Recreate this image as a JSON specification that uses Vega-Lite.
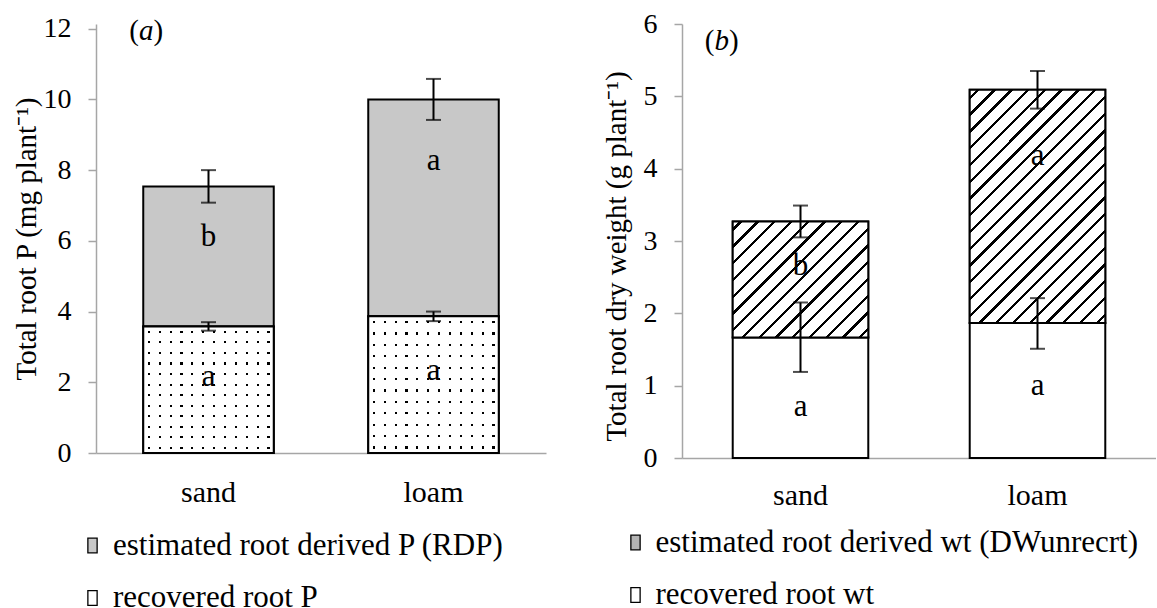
{
  "$schema": "https://vega.github.io/schema/vega-lite/v6.json",
  "padding": {"left": 12, "top": 10, "right": 0, "bottom": 0},
  "background": "white",
  "config": {
    "font": "Liberation Serif, Times New Roman, serif",
    "view": {"stroke": null},
    "axis": {"grid": false, "domainColor": "#a6a6a6", "domainWidth": 1.5, "tickColor": "#a6a6a6", "tickWidth": 1.5, "labelColor": "#000", "titleColor": "#000", "titleFontWeight": "normal", "labelFontSize": 28, "titleFontSize": 29, "labelFont": "Liberation Serif, Times New Roman, serif", "titleFont": "Liberation Serif, Times New Roman, serif"},
    "legend": {"labelFont": "Liberation Serif, Times New Roman, serif", "labelFontSize": 31, "labelColor": "#000", "labelLimit": 0, "symbolType": "M-0.63,-1H0.63V1H-0.63Z", "symbolSize": 216, "symbolStrokeColor": "#000", "symbolStrokeWidth": 1.3, "rowPadding": 20.5, "labelOffset": 5, "padding": 0, "orient": "none", "direction": "vertical"}
  },
  "spacing": 56,
  "resolve": {"scale": {"color": "independent", "y": "independent", "x": "independent"}, "legend": {"color": "independent"}},
  "hconcat": [
    {
      "width": 450, "height": 429,
      "data": {"values": [
        {"soil": "sand", "comp": "estimated root derived P (RDP)", "y0": 3.58, "y1": 7.54, "lo": 7.08, "hi": 8.0, "letter": "b", "ly": 6.1},
        {"soil": "sand", "comp": "recovered root P", "y0": 0, "y1": 3.58, "lo": 3.46, "hi": 3.7, "letter": "a", "ly": 2.14},
        {"soil": "loam", "comp": "estimated root derived P (RDP)", "y0": 3.87, "y1": 10.0, "lo": 9.42, "hi": 10.58, "letter": "a", "ly": 8.26},
        {"soil": "loam", "comp": "recovered root P", "y0": 0, "y1": 3.87, "lo": 3.73, "hi": 4.0, "letter": "a", "ly": 2.31}
      ]},
      "encoding": {"x": {"field": "soil", "type": "nominal", "sort": ["sand", "loam"], "scale": {"paddingInner": 0.42, "paddingOuter": 0.21}, "axis": {"title": null, "labelAngle": 0, "ticks": false, "tickSize": 0, "labelPadding": 24, "labelFontSize": 30}}},
      "layer": [
        {"mark": {"type": "bar", "stroke": "#000", "strokeWidth": 2},
         "encoding": {
           "y": {"field": "y0", "type": "quantitative", "title": "Total root P (mg plant⁻¹)", "scale": {"domain": [0, 12.133], "nice": false}, "axis": {"title": "Total root P (mg plant⁻¹)", "values": [0, 2, 4, 6, 8, 10, 12], "format": "d", "tickSize": 8, "labelPadding": 17, "titlePadding": 2}},
           "y2": {"field": "y1"},
           "color": {"field": "comp", "type": "nominal", "scale": {"domain": ["estimated root derived P (RDP)", "recovered root P"], "range": ["#c8c8c8", "#ffffff"]}, "legend": {"title": null, "legendX": -19, "legendY": 506}}
         }},
        {"transform": [{"filter": "datum.comp === 'recovered root P'"}],
         "mark": {"type": "bar", "fill": {"gradient": "linear", "x1": 0, "y1": 0, "x2": 0, "y2": 1, "stops": [
           {"offset": 0.035, "color": "#fff"}, {"offset": 0.035, "color": "#000"}, {"offset": 0.051, "color": "#000"}, {"offset": 0.051, "color": "#fff"},
           {"offset": 0.118, "color": "#fff"}, {"offset": 0.118, "color": "#000"}, {"offset": 0.134, "color": "#000"}, {"offset": 0.134, "color": "#fff"},
           {"offset": 0.202, "color": "#fff"}, {"offset": 0.202, "color": "#000"}, {"offset": 0.218, "color": "#000"}, {"offset": 0.218, "color": "#fff"},
           {"offset": 0.285, "color": "#fff"}, {"offset": 0.285, "color": "#000"}, {"offset": 0.301, "color": "#000"}, {"offset": 0.301, "color": "#fff"},
           {"offset": 0.368, "color": "#fff"}, {"offset": 0.368, "color": "#000"}, {"offset": 0.384, "color": "#000"}, {"offset": 0.384, "color": "#fff"},
           {"offset": 0.452, "color": "#fff"}, {"offset": 0.452, "color": "#000"}, {"offset": 0.468, "color": "#000"}, {"offset": 0.468, "color": "#fff"},
           {"offset": 0.535, "color": "#fff"}, {"offset": 0.535, "color": "#000"}, {"offset": 0.551, "color": "#000"}, {"offset": 0.551, "color": "#fff"},
           {"offset": 0.618, "color": "#fff"}, {"offset": 0.618, "color": "#000"}, {"offset": 0.634, "color": "#000"}, {"offset": 0.634, "color": "#fff"},
           {"offset": 0.702, "color": "#fff"}, {"offset": 0.702, "color": "#000"}, {"offset": 0.718, "color": "#000"}, {"offset": 0.718, "color": "#fff"},
           {"offset": 0.785, "color": "#fff"}, {"offset": 0.785, "color": "#000"}, {"offset": 0.801, "color": "#000"}, {"offset": 0.801, "color": "#fff"},
           {"offset": 0.868, "color": "#fff"}, {"offset": 0.868, "color": "#000"}, {"offset": 0.884, "color": "#000"}, {"offset": 0.884, "color": "#fff"},
           {"offset": 0.952, "color": "#fff"}, {"offset": 0.952, "color": "#000"}, {"offset": 0.968, "color": "#000"}, {"offset": 0.968, "color": "#fff"}
         ]}},
         "encoding": {"y": {"field": "y0", "type": "quantitative", "title": "Total root P (mg plant⁻¹)"}, "y2": {"field": "y1"}}},
        {"transform": [{"filter": "datum.comp === 'recovered root P'"}],
         "mark": {"type": "bar", "stroke": "#000", "strokeWidth": 2, "fill": {"gradient": "linear", "x1": 0, "y1": 0, "x2": 1, "y2": 0, "stops": [
           {"offset": 0.035, "color": "#fff"}, {"offset": 0.035, "color": "rgba(255,255,255,0)"}, {"offset": 0.051, "color": "rgba(255,255,255,0)"}, {"offset": 0.051, "color": "#fff"},
           {"offset": 0.118, "color": "#fff"}, {"offset": 0.118, "color": "rgba(255,255,255,0)"}, {"offset": 0.134, "color": "rgba(255,255,255,0)"}, {"offset": 0.134, "color": "#fff"},
           {"offset": 0.202, "color": "#fff"}, {"offset": 0.202, "color": "rgba(255,255,255,0)"}, {"offset": 0.218, "color": "rgba(255,255,255,0)"}, {"offset": 0.218, "color": "#fff"},
           {"offset": 0.285, "color": "#fff"}, {"offset": 0.285, "color": "rgba(255,255,255,0)"}, {"offset": 0.301, "color": "rgba(255,255,255,0)"}, {"offset": 0.301, "color": "#fff"},
           {"offset": 0.368, "color": "#fff"}, {"offset": 0.368, "color": "rgba(255,255,255,0)"}, {"offset": 0.384, "color": "rgba(255,255,255,0)"}, {"offset": 0.384, "color": "#fff"},
           {"offset": 0.452, "color": "#fff"}, {"offset": 0.452, "color": "rgba(255,255,255,0)"}, {"offset": 0.468, "color": "rgba(255,255,255,0)"}, {"offset": 0.468, "color": "#fff"},
           {"offset": 0.535, "color": "#fff"}, {"offset": 0.535, "color": "rgba(255,255,255,0)"}, {"offset": 0.551, "color": "rgba(255,255,255,0)"}, {"offset": 0.551, "color": "#fff"},
           {"offset": 0.618, "color": "#fff"}, {"offset": 0.618, "color": "rgba(255,255,255,0)"}, {"offset": 0.634, "color": "rgba(255,255,255,0)"}, {"offset": 0.634, "color": "#fff"},
           {"offset": 0.702, "color": "#fff"}, {"offset": 0.702, "color": "rgba(255,255,255,0)"}, {"offset": 0.718, "color": "rgba(255,255,255,0)"}, {"offset": 0.718, "color": "#fff"},
           {"offset": 0.785, "color": "#fff"}, {"offset": 0.785, "color": "rgba(255,255,255,0)"}, {"offset": 0.801, "color": "rgba(255,255,255,0)"}, {"offset": 0.801, "color": "#fff"},
           {"offset": 0.868, "color": "#fff"}, {"offset": 0.868, "color": "rgba(255,255,255,0)"}, {"offset": 0.884, "color": "rgba(255,255,255,0)"}, {"offset": 0.884, "color": "#fff"},
           {"offset": 0.952, "color": "#fff"}, {"offset": 0.952, "color": "rgba(255,255,255,0)"}, {"offset": 0.968, "color": "rgba(255,255,255,0)"}, {"offset": 0.968, "color": "#fff"}
         ]}},
         "encoding": {"y": {"field": "y0", "type": "quantitative", "title": "Total root P (mg plant⁻¹)"}, "y2": {"field": "y1"}}},
        {"mark": {"type": "rule", "color": "#000", "strokeWidth": 2},
         "encoding": {"y": {"field": "lo", "type": "quantitative", "title": "Total root P (mg plant⁻¹)"}, "y2": {"field": "hi"}}},
        {"mark": {"type": "tick", "color": "#000", "size": 15, "thickness": 2},
         "encoding": {"y": {"field": "lo", "type": "quantitative", "title": "Total root P (mg plant⁻¹)"}}},
        {"mark": {"type": "tick", "color": "#000", "size": 15, "thickness": 2},
         "encoding": {"y": {"field": "hi", "type": "quantitative", "title": "Total root P (mg plant⁻¹)"}}},
        {"mark": {"type": "text", "fontSize": 31, "color": "#000", "baseline": "middle", "font": "Liberation Serif, Times New Roman, serif"},
         "encoding": {"y": {"field": "ly", "type": "quantitative", "title": "Total root P (mg plant⁻¹)"}, "text": {"field": "letter"}}},
        {"data": {"values": [{"soil": "sand", "ty": 11.67}]},
         "mark": {"type": "text", "text": "(", "fontSize": 29, "align": "left", "baseline": "alphabetic", "dx": -14, "color": "#000", "font": "Liberation Serif, Times New Roman, serif"},
         "encoding": {"x": {"field": "soil", "type": "nominal", "sort": ["sand", "loam"], "bandPosition": 0}, "y": {"field": "ty", "type": "quantitative", "title": "Total root P (mg plant⁻¹)"}}},
        {"data": {"values": [{"soil": "sand", "ty": 11.67}]},
         "mark": {"type": "text", "text": "a", "fontStyle": "italic", "fontSize": 29, "align": "left", "baseline": "alphabetic", "dx": -4.3, "color": "#000", "font": "Liberation Serif, Times New Roman, serif"},
         "encoding": {"x": {"field": "soil", "type": "nominal", "sort": ["sand", "loam"], "bandPosition": 0}, "y": {"field": "ty", "type": "quantitative", "title": "Total root P (mg plant⁻¹)"}}},
        {"data": {"values": [{"soil": "sand", "ty": 11.67}]},
         "mark": {"type": "text", "text": ")", "fontSize": 29, "align": "left", "baseline": "alphabetic", "dx": 10.2, "color": "#000", "font": "Liberation Serif, Times New Roman, serif"},
         "encoding": {"x": {"field": "soil", "type": "nominal", "sort": ["sand", "loam"], "bandPosition": 0}, "y": {"field": "ty", "type": "quantitative", "title": "Total root P (mg plant⁻¹)"}}}
      ]
    },
    {
      "width": 474, "height": 434,
      "data": {"values": [
        {"soil": "sand", "comp": "estimated root derived wt (DWunrecrt)", "y0": 1.667, "y1": 3.27, "lo": 3.05, "hi": 3.49, "letter": "b", "ly": 2.65},
        {"soil": "sand", "comp": "recovered root wt", "y0": 0, "y1": 1.667, "lo": 1.19, "hi": 2.15, "letter": "a", "ly": 0.7},
        {"soil": "loam", "comp": "estimated root derived wt (DWunrecrt)", "y0": 1.866, "y1": 5.09, "lo": 4.83, "hi": 5.35, "letter": "a", "ly": 4.17},
        {"soil": "loam", "comp": "recovered root wt", "y0": 0, "y1": 1.866, "lo": 1.51, "hi": 2.21, "letter": "a", "ly": 0.99}
      ]},
      "encoding": {"x": {"field": "soil", "type": "nominal", "sort": ["sand", "loam"], "scale": {"paddingInner": 0.428, "paddingOuter": 0.214}, "axis": {"title": null, "labelAngle": 0, "ticks": false, "tickSize": 0, "labelPadding": 22, "labelFontSize": 30}}},
      "layer": [
        {"mark": {"type": "bar", "stroke": "#000", "strokeWidth": 2},
         "encoding": {
           "y": {"field": "y0", "type": "quantitative", "title": "Total root dry weight (g plant⁻¹)", "scale": {"domain": [0, 6], "nice": false}, "axis": {"title": "Total root dry weight (g plant⁻¹)", "values": [0, 1, 2, 3, 4, 5, 6], "format": "d", "tickSize": 8, "labelPadding": 17, "titlePadding": 12, "titleY": 232}},
           "y2": {"field": "y1"},
           "color": {"field": "comp", "type": "nominal", "scale": {"domain": ["estimated root derived wt (DWunrecrt)", "recovered root wt"], "range": ["#b4b4b4", "#ffffff"]}, "legend": {"title": null, "legendX": -62, "legendY": 503, "labelOffset": 4.5}}
         }},
        {"transform": [{"filter": "datum.soil === 'sand' && datum.comp === 'estimated root derived wt (DWunrecrt)'"}],
         "mark": {"type": "bar", "stroke": "#000", "strokeWidth": 2, "fill": {"gradient": "linear", "x1": 0, "y1": 0, "x2": 1.0714, "y2": 0.9166, "stops": [
           {"offset": 0.027, "color": "#fff"}, {"offset": 0.027, "color": "#000"}, {"offset": 0.04, "color": "#000"}, {"offset": 0.04, "color": "#fff"},
           {"offset": 0.0937, "color": "#fff"}, {"offset": 0.0937, "color": "#000"}, {"offset": 0.1067, "color": "#000"}, {"offset": 0.1067, "color": "#fff"},
           {"offset": 0.1603, "color": "#fff"}, {"offset": 0.1603, "color": "#000"}, {"offset": 0.1733, "color": "#000"}, {"offset": 0.1733, "color": "#fff"},
           {"offset": 0.227, "color": "#fff"}, {"offset": 0.227, "color": "#000"}, {"offset": 0.24, "color": "#000"}, {"offset": 0.24, "color": "#fff"},
           {"offset": 0.2937, "color": "#fff"}, {"offset": 0.2937, "color": "#000"}, {"offset": 0.3067, "color": "#000"}, {"offset": 0.3067, "color": "#fff"},
           {"offset": 0.3603, "color": "#fff"}, {"offset": 0.3603, "color": "#000"}, {"offset": 0.3733, "color": "#000"}, {"offset": 0.3733, "color": "#fff"},
           {"offset": 0.427, "color": "#fff"}, {"offset": 0.427, "color": "#000"}, {"offset": 0.44, "color": "#000"}, {"offset": 0.44, "color": "#fff"},
           {"offset": 0.4937, "color": "#fff"}, {"offset": 0.4937, "color": "#000"}, {"offset": 0.5067, "color": "#000"}, {"offset": 0.5067, "color": "#fff"},
           {"offset": 0.5603, "color": "#fff"}, {"offset": 0.5603, "color": "#000"}, {"offset": 0.5733, "color": "#000"}, {"offset": 0.5733, "color": "#fff"},
           {"offset": 0.627, "color": "#fff"}, {"offset": 0.627, "color": "#000"}, {"offset": 0.64, "color": "#000"}, {"offset": 0.64, "color": "#fff"},
           {"offset": 0.6937, "color": "#fff"}, {"offset": 0.6937, "color": "#000"}, {"offset": 0.7067, "color": "#000"}, {"offset": 0.7067, "color": "#fff"},
           {"offset": 0.7603, "color": "#fff"}, {"offset": 0.7603, "color": "#000"}, {"offset": 0.7733, "color": "#000"}, {"offset": 0.7733, "color": "#fff"},
           {"offset": 0.827, "color": "#fff"}, {"offset": 0.827, "color": "#000"}, {"offset": 0.84, "color": "#000"}, {"offset": 0.84, "color": "#fff"},
           {"offset": 0.8937, "color": "#fff"}, {"offset": 0.8937, "color": "#000"}, {"offset": 0.9067, "color": "#000"}, {"offset": 0.9067, "color": "#fff"},
           {"offset": 0.9603, "color": "#fff"}, {"offset": 0.9603, "color": "#000"}, {"offset": 0.9733, "color": "#000"}, {"offset": 0.9733, "color": "#fff"}
         ]}},
         "encoding": {"y": {"field": "y0", "type": "quantitative", "title": "Total root dry weight (g plant⁻¹)"}, "y2": {"field": "y1"}}},
        {"transform": [{"filter": "datum.soil === 'loam' && datum.comp === 'estimated root derived wt (DWunrecrt)'"}],
         "mark": {"type": "bar", "stroke": "#000", "strokeWidth": 2, "fill": {"gradient": "linear", "x1": 0, "y1": 0, "x2": 0.6872, "y2": 1.1819, "stops": [
           {"offset": 0.018, "color": "#fff"}, {"offset": 0.018, "color": "#000"}, {"offset": 0.027, "color": "#000"}, {"offset": 0.027, "color": "#fff"},
           {"offset": 0.0635, "color": "#fff"}, {"offset": 0.0635, "color": "#000"}, {"offset": 0.0725, "color": "#000"}, {"offset": 0.0725, "color": "#fff"},
           {"offset": 0.1089, "color": "#fff"}, {"offset": 0.1089, "color": "#000"}, {"offset": 0.1179, "color": "#000"}, {"offset": 0.1179, "color": "#fff"},
           {"offset": 0.1544, "color": "#fff"}, {"offset": 0.1544, "color": "#000"}, {"offset": 0.1634, "color": "#000"}, {"offset": 0.1634, "color": "#fff"},
           {"offset": 0.1998, "color": "#fff"}, {"offset": 0.1998, "color": "#000"}, {"offset": 0.2088, "color": "#000"}, {"offset": 0.2088, "color": "#fff"},
           {"offset": 0.2453, "color": "#fff"}, {"offset": 0.2453, "color": "#000"}, {"offset": 0.2543, "color": "#000"}, {"offset": 0.2543, "color": "#fff"},
           {"offset": 0.2907, "color": "#fff"}, {"offset": 0.2907, "color": "#000"}, {"offset": 0.2997, "color": "#000"}, {"offset": 0.2997, "color": "#fff"},
           {"offset": 0.3362, "color": "#fff"}, {"offset": 0.3362, "color": "#000"}, {"offset": 0.3452, "color": "#000"}, {"offset": 0.3452, "color": "#fff"},
           {"offset": 0.3816, "color": "#fff"}, {"offset": 0.3816, "color": "#000"}, {"offset": 0.3906, "color": "#000"}, {"offset": 0.3906, "color": "#fff"},
           {"offset": 0.4271, "color": "#fff"}, {"offset": 0.4271, "color": "#000"}, {"offset": 0.4361, "color": "#000"}, {"offset": 0.4361, "color": "#fff"},
           {"offset": 0.4725, "color": "#fff"}, {"offset": 0.4725, "color": "#000"}, {"offset": 0.4815, "color": "#000"}, {"offset": 0.4815, "color": "#fff"},
           {"offset": 0.518, "color": "#fff"}, {"offset": 0.518, "color": "#000"}, {"offset": 0.527, "color": "#000"}, {"offset": 0.527, "color": "#fff"},
           {"offset": 0.5634, "color": "#fff"}, {"offset": 0.5634, "color": "#000"}, {"offset": 0.5724, "color": "#000"}, {"offset": 0.5724, "color": "#fff"},
           {"offset": 0.6089, "color": "#fff"}, {"offset": 0.6089, "color": "#000"}, {"offset": 0.6179, "color": "#000"}, {"offset": 0.6179, "color": "#fff"},
           {"offset": 0.6543, "color": "#fff"}, {"offset": 0.6543, "color": "#000"}, {"offset": 0.6633, "color": "#000"}, {"offset": 0.6633, "color": "#fff"},
           {"offset": 0.6998, "color": "#fff"}, {"offset": 0.6998, "color": "#000"}, {"offset": 0.7088, "color": "#000"}, {"offset": 0.7088, "color": "#fff"},
           {"offset": 0.7452, "color": "#fff"}, {"offset": 0.7452, "color": "#000"}, {"offset": 0.7542, "color": "#000"}, {"offset": 0.7542, "color": "#fff"},
           {"offset": 0.7907, "color": "#fff"}, {"offset": 0.7907, "color": "#000"}, {"offset": 0.7997, "color": "#000"}, {"offset": 0.7997, "color": "#fff"},
           {"offset": 0.8361, "color": "#fff"}, {"offset": 0.8361, "color": "#000"}, {"offset": 0.8451, "color": "#000"}, {"offset": 0.8451, "color": "#fff"},
           {"offset": 0.8816, "color": "#fff"}, {"offset": 0.8816, "color": "#000"}, {"offset": 0.8906, "color": "#000"}, {"offset": 0.8906, "color": "#fff"},
           {"offset": 0.927, "color": "#fff"}, {"offset": 0.927, "color": "#000"}, {"offset": 0.936, "color": "#000"}, {"offset": 0.936, "color": "#fff"},
           {"offset": 0.9725, "color": "#fff"}, {"offset": 0.9725, "color": "#000"}, {"offset": 0.9815, "color": "#000"}, {"offset": 0.9815, "color": "#fff"}
         ]}},
         "encoding": {"y": {"field": "y0", "type": "quantitative", "title": "Total root dry weight (g plant⁻¹)"}, "y2": {"field": "y1"}}},
        {"mark": {"type": "rule", "color": "#000", "strokeWidth": 2},
         "encoding": {"y": {"field": "lo", "type": "quantitative", "title": "Total root dry weight (g plant⁻¹)"}, "y2": {"field": "hi"}}},
        {"mark": {"type": "tick", "color": "#000", "size": 15, "thickness": 2},
         "encoding": {"y": {"field": "lo", "type": "quantitative", "title": "Total root dry weight (g plant⁻¹)"}}},
        {"mark": {"type": "tick", "color": "#000", "size": 15, "thickness": 2},
         "encoding": {"y": {"field": "hi", "type": "quantitative", "title": "Total root dry weight (g plant⁻¹)"}}},
        {"mark": {"type": "text", "fontSize": 31, "color": "#000", "baseline": "middle", "font": "Liberation Serif, Times New Roman, serif"},
         "encoding": {"y": {"field": "ly", "type": "quantitative", "title": "Total root dry weight (g plant⁻¹)"}, "text": {"field": "letter"}}},
        {"data": {"values": [{"soil": "sand", "ty": 5.645}]},
         "mark": {"type": "text", "text": "(", "fontSize": 29, "align": "left", "baseline": "alphabetic", "dx": -28, "color": "#000", "font": "Liberation Serif, Times New Roman, serif"},
         "encoding": {"x": {"field": "soil", "type": "nominal", "sort": ["sand", "loam"], "bandPosition": 0}, "y": {"field": "ty", "type": "quantitative", "title": "Total root dry weight (g plant⁻¹)"}}},
        {"data": {"values": [{"soil": "sand", "ty": 5.645}]},
         "mark": {"type": "text", "text": "b", "fontStyle": "italic", "fontSize": 29, "align": "left", "baseline": "alphabetic", "dx": -18.3, "color": "#000", "font": "Liberation Serif, Times New Roman, serif"},
         "encoding": {"x": {"field": "soil", "type": "nominal", "sort": ["sand", "loam"], "bandPosition": 0}, "y": {"field": "ty", "type": "quantitative", "title": "Total root dry weight (g plant⁻¹)"}}},
        {"data": {"values": [{"soil": "sand", "ty": 5.645}]},
         "mark": {"type": "text", "text": ")", "fontSize": 29, "align": "left", "baseline": "alphabetic", "dx": -3.8, "color": "#000", "font": "Liberation Serif, Times New Roman, serif"},
         "encoding": {"x": {"field": "soil", "type": "nominal", "sort": ["sand", "loam"], "bandPosition": 0}, "y": {"field": "ty", "type": "quantitative", "title": "Total root dry weight (g plant⁻¹)"}}}
      ]
    }
  ]
}
